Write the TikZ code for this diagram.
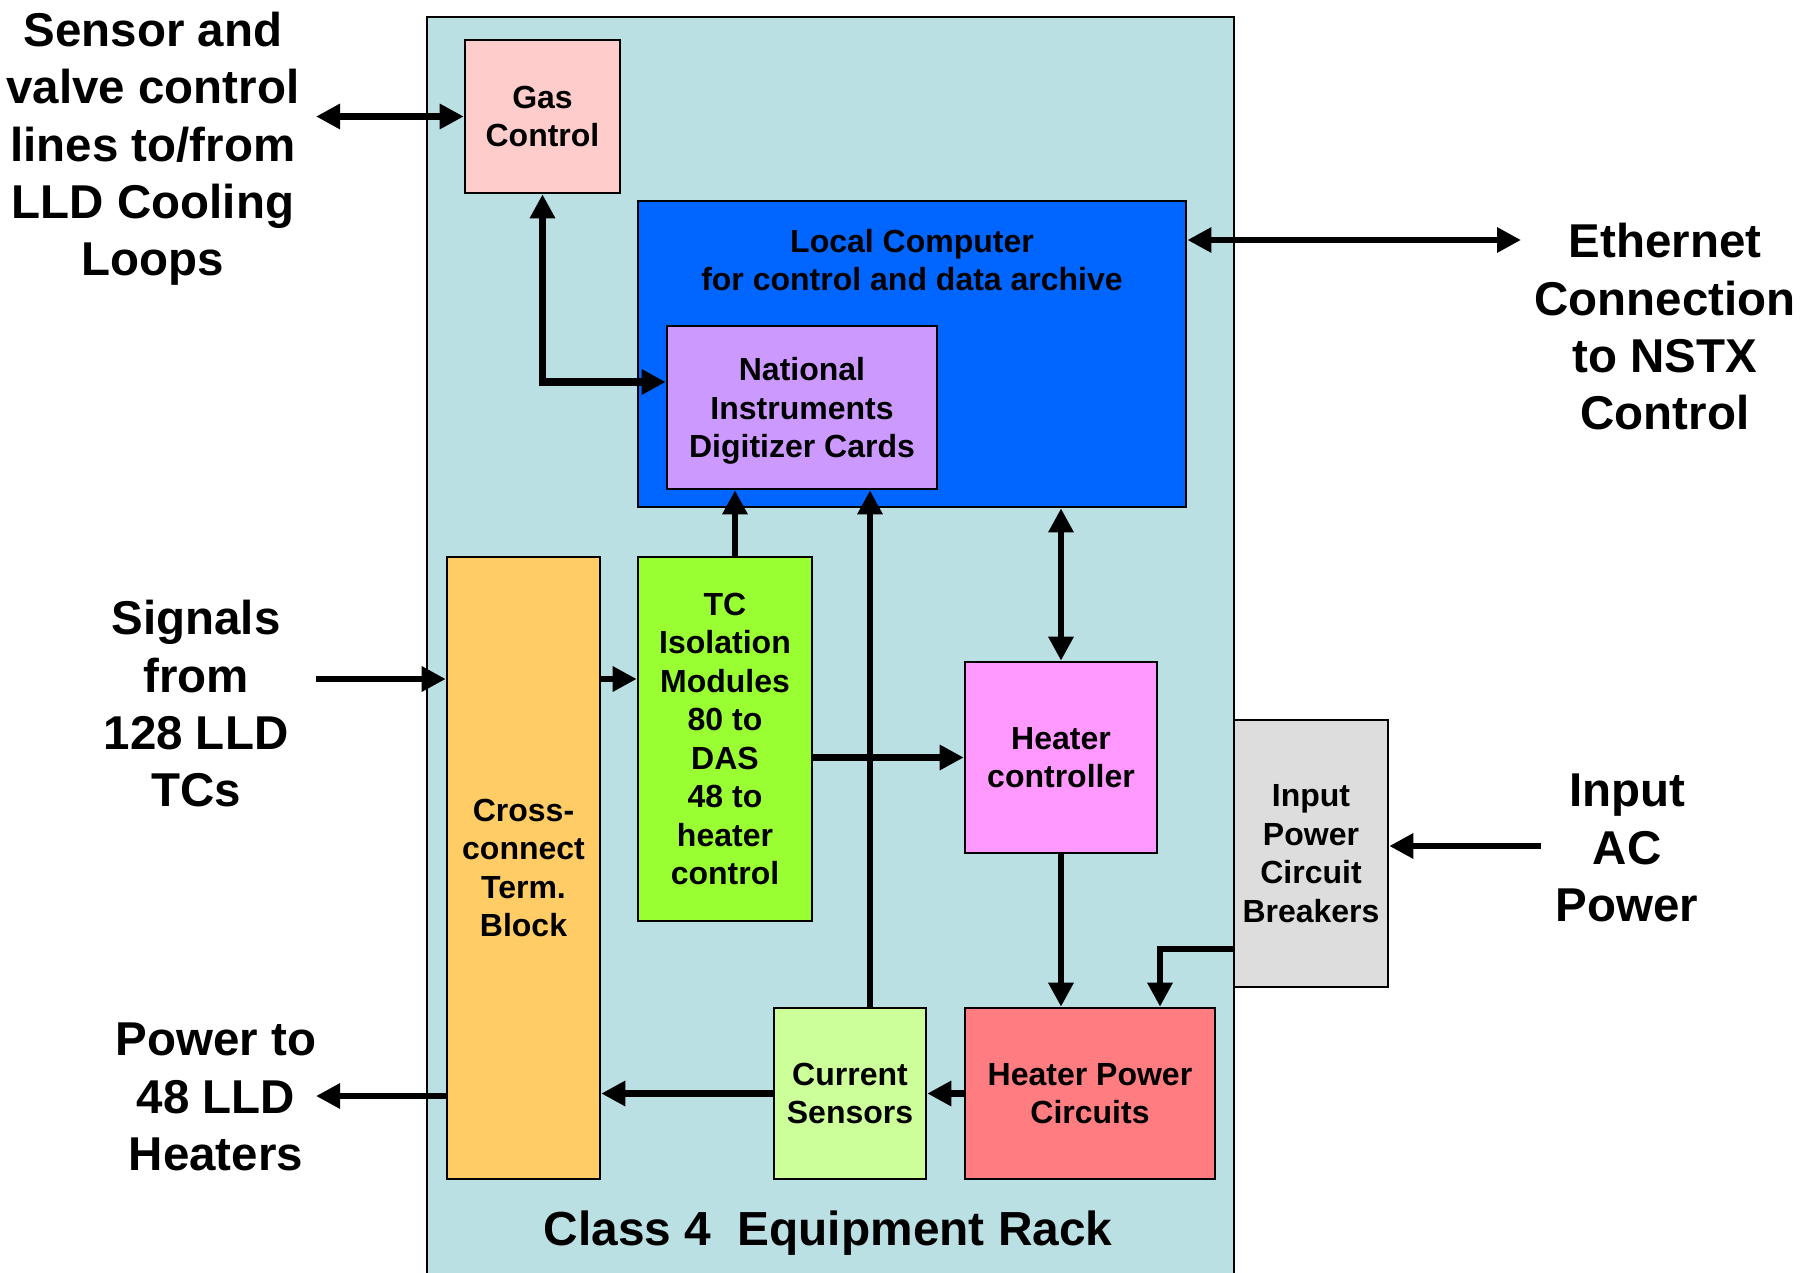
\documentclass[tikz,border=0pt]{standalone}
\usepackage{fontspec}
\setmainfont{Liberation Sans}
\usetikzlibrary{arrows.meta}

\definecolor{rackbg}{HTML}{BBE0E3}
\definecolor{gasbg}{HTML}{FFCCCC}
\definecolor{pcbg}{HTML}{0066FF}
\definecolor{nibg}{HTML}{CC99FF}
\definecolor{ccbg}{HTML}{FFCC66}
\definecolor{tcbg}{HTML}{99FF33}
\definecolor{hcbg}{HTML}{FF99FF}
\definecolor{csbg}{HTML}{CCFF99}
\definecolor{hpbg}{HTML}{FF7C80}
\definecolor{cbbg}{HTML}{DDDDDD}

\begin{document}
\begin{tikzpicture}[x=0.01cm,y=-0.01cm,
  blk/.style={draw=black, line width=0.7pt, inner sep=0pt, align=center,
    font=\bfseries\fontsize{9.1}{10.95}\selectfont},
  boxtext/.style={inner sep=0pt, align=center,
    font=\bfseries\fontsize{9.1}{10.95}\selectfont},
  biglbl/.style={inner sep=0pt, align=center,
    font=\bfseries\fontsize{13.5}{16.3}\selectfont},
  wire/.style={line width=1.75pt, draw=black},
  tip/.tip={Triangle[length=0.24cm,width=0.24cm]},
  arr/.style={wire, -tip},
  dbl/.style={wire, tip-tip}]

\useasboundingbox (0,0) rectangle (1800,1273);

% equipment rack background (open at the bottom)
\fill[rackbg] (427,17) rectangle (1234,1273);
\draw[line width=0.8pt] (427,1273) -- (427,17) -- (1234,17) -- (1234,1273);

% blocks inside the rack
\node[blk, fill=gasbg, minimum width=1.55cm, minimum height=1.53cm] (gas) at (542.5,116.5) {Gas\\Control};
\node[blk, fill=pcbg, minimum width=5.48cm, minimum height=3.06cm] (lc) at (912,354) {};
\node[boxtext] (lctext) at (912,260) {Local Computer\\for control and data archive};
\node[blk, fill=nibg, minimum width=2.70cm, minimum height=1.63cm] (ni) at (802,407.5) {};
\node[boxtext] (nitext) at (802,411) {National\\Instruments\\Digitizer Cards};
\node[blk, fill=ccbg, minimum width=1.53cm, minimum height=6.22cm] (cc) at (523.5,868) {Cross-\\connect\\Term.\\Block};
\node[blk, fill=tcbg, minimum width=1.74cm, minimum height=3.64cm] (tc) at (725,739) {TC\\Isolation\\Modules\\80 to\\DAS\\48 to\\heater\\control};
\node[blk, fill=hcbg, minimum width=1.92cm, minimum height=1.91cm] (hc) at (1061,757.5) {Heater\\controller};
\node[blk, fill=cbbg, minimum width=1.54cm, minimum height=2.67cm] (cb) at (1311,853.5) {Input\\Power\\Circuit\\Breakers};
\node[blk, fill=csbg, minimum width=1.52cm, minimum height=1.71cm] (cs) at (850,1093.5) {Current\\Sensors};
\node[blk, fill=hpbg, minimum width=2.50cm, minimum height=1.71cm] (hpc) at (1090,1093.5) {Heater Power\\Circuits};

\node[biglbl, font=\bfseries\fontsize{13.6}{16.3}\selectfont] (rackname) at (828,1233) {Class 4\ \ Equipment Rack};

% outside labels
\node[biglbl] (sens) at (153,149) {Sensor and\\valve control\\lines to/from\\LLD Cooling\\Loops};
\node[biglbl] (eth) at (1665,327) {Ethernet\\Connection\\to NSTX\\Control};
\node[biglbl] (sig) at (196,704) {Signals\\from\\128 LLD\\TCs};
\node[biglbl] (ac) at (1627,848) {Input\\AC\\Power};
\node[biglbl] (pwr) at (216,1097) {Power to\\48 LLD\\Heaters};

% free ends and bend points of the wiring
\coordinate (gasend) at (316,116.5);
\coordinate (ethend) at (1521,240);
\coordinate (sigend) at (316,679);
\coordinate (acend) at (1541,846);
\coordinate (pwrend) at (316,1096);
\coordinate (tcup) at (735,0);
\coordinate (csup) at (870,0);
\coordinate (cbturn) at (1160,949);

% connectors
\draw[dbl] (gasend) -- (gas.west);
\draw[dbl, line width=2.2pt] (gas.south) |- ([yshift=0.255cm]ni.west);
\draw[dbl] (lc.east |- ethend) -- (ethend);
\draw[arr] (tc.north -| tcup) -- (ni.south -| tcup);
\draw[arr] (cs.north -| csup) -- (ni.south -| csup);
\draw[dbl] (lc.south -| hc.north) -- (hc.north);
\draw[arr] (sigend) -- (sigend -| cc.west);
\draw[arr] (sigend -| cc.east) -- (sigend -| tc.west);
\draw[arr] (hc.west -| tc.east) -- (hc.west);
\draw[arr] (hc.south) -- (hc.south |- hpc.north);
\draw[arr] (cbturn -| cb.west) -| (cbturn |- hpc.north);
\draw[arr] (acend) -- (acend -| cb.east);
\draw[arr] (hpc.west) -- (hpc.west -| cs.east);
\draw[arr] (cs.west) -- (cs.west -| cc.east);
\draw[arr] (pwrend -| cc.west) -- (pwrend);

\end{tikzpicture}
\end{document}
